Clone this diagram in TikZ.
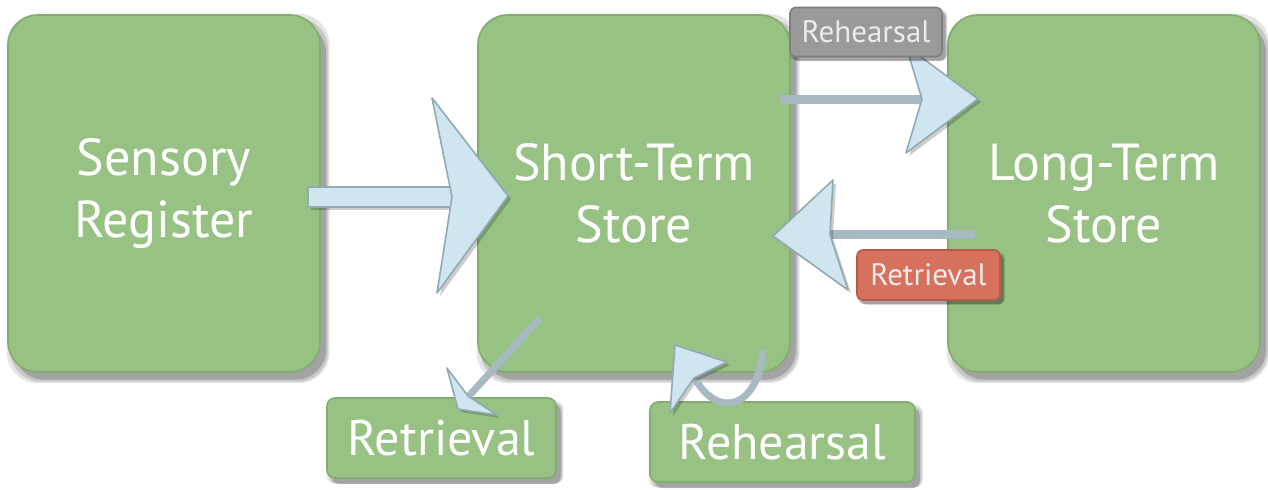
\documentclass[tikz,border=0pt]{standalone}
\usepackage{fontspec}
\setmainfont{PT Sans}
\usetikzlibrary{shadows}
\definecolor{boxgreen}{HTML}{98C284}
\definecolor{boxedge}{HTML}{82AD6E}
\definecolor{headfill}{HTML}{CFE6F1}
\definecolor{headedge}{HTML}{93A9B3}
\definecolor{shaftcol}{HTML}{A7BAC2}
\definecolor{graylab}{HTML}{9A9A9A}
\definecolor{grayedge}{HTML}{7E7E7E}
\definecolor{redlab}{HTML}{D5715C}
\definecolor{rededge}{HTML}{B55A48}
\tikzset{
  softshadow/.style={
    general shadow={shadow xshift=#1*1.0pt, shadow yshift=-#1*1.2pt, shadow scale=1.035, opacity=0.10, fill=black},
    general shadow={shadow xshift=#1*1.3pt, shadow yshift=-#1*1.6pt, shadow scale=1.018, opacity=0.13, fill=black},
    general shadow={shadow xshift=#1*1.5pt, shadow yshift=-#1*1.9pt, opacity=0.18, fill=black}},
  bigbox/.style={draw=boxedge, line width=0.8pt, fill=boxgreen, rounded corners=15pt,
    minimum width=156pt, minimum height=178.5pt, inner sep=0pt, align=center,
    text=white, font=\fontsize{26}{31}\selectfont, softshadow=2},
  smallbox/.style={draw=boxedge, line width=0.8pt, fill=boxgreen, rounded corners=4pt,
    minimum height=40pt, inner sep=0pt, text=white, font=\fontsize{25}{30}\selectfont,
    softshadow=1.6},
  tag/.style={line width=0.8pt, rounded corners=3pt, inner sep=0pt,
    text=white!92!black, font=\fontsize{15.5}{18}\selectfont, softshadow=1.2},
  shaft/.style={draw=shaftcol, line width=#1},
  head/.style={draw=headedge, fill=headfill, line width=0.8pt, line join=round,
    drop shadow={shadow xshift=1.5pt, shadow yshift=-1.5pt, opacity=0.2, fill=black}}
}
\begin{document}
\begin{tikzpicture}[x=0.5pt,y=-0.5pt]
\useasboundingbox[fill=white] (0,0) rectangle (1268,489);

% main boxes
\node[bigbox] (sr)  at (164,193.5)  {Sensory\\Register};
\node[bigbox] (sts) at (634,193.5)  {Short-Term\\Store};
\node[bigbox] (lts) at (1104,193.5) {Long-Term\\Store};

% bottom boxes
\node[smallbox, minimum width=114.5pt] (ret) at (441.5,438) {Retrieval};
\node[smallbox, minimum width=132.5pt] (reh) at (782.5,442) {Rehearsal};

% arrow Sensory -> STS
\coordinate (a1s) at (308,187);
\coordinate (a1e) at (452,207);
\filldraw[head] (a1s) rectangle (a1e);
\filldraw[head] (432,98) -- (508,196) -- (437,293) -- (452,197) -- cycle;

% arrow STS -> LTS
\coordinate (a2s) at (780,99);
\coordinate (a2e) at (924,99);
\draw[shaft=4.5pt] (a2s) -- (a2e);
\filldraw[head] (906,46) -- (978,99) -- (906,153) -- (922,99) -- cycle;

% arrow LTS -> STS
\coordinate (a3s) at (975,234);
\coordinate (a3e) at (828,234);
\draw[shaft=4.5pt] (a3s) -- (a3e);
\filldraw[head] (833,180) -- (773,236) -- (848,290) -- (830,235) -- cycle;

% arrow STS -> Retrieval
\coordinate (a4s) at (540,318);
\coordinate (a4e) at (468,397);
\draw[shaft=3.5pt] (a4s) -- (a4e);
\filldraw[head] (447,368) -- (458,409) -- (497,415) -- (468,396) -- cycle;

% curved rehearsal arrow
\coordinate (a5s) at (763,350);
\coordinate (a5e) at (697,382);
\draw[shaft=3.5pt] (a5s) .. controls (758,408) and (720,418) .. (a5e);
\filldraw[head] (727,362) -- (675,345) -- (670,413) -- (694,378) -- cycle;

% tags
\node[tag, fill=graylab, draw=grayedge, minimum width=76pt, minimum height=24.5pt] (tagreh) at (866,32) {Rehearsal};
\node[tag, fill=redlab, draw=rededge, minimum width=71.5pt, minimum height=25pt] (tagret) at (928.5,275) {Retrieval};
\end{tikzpicture}
\end{document}
